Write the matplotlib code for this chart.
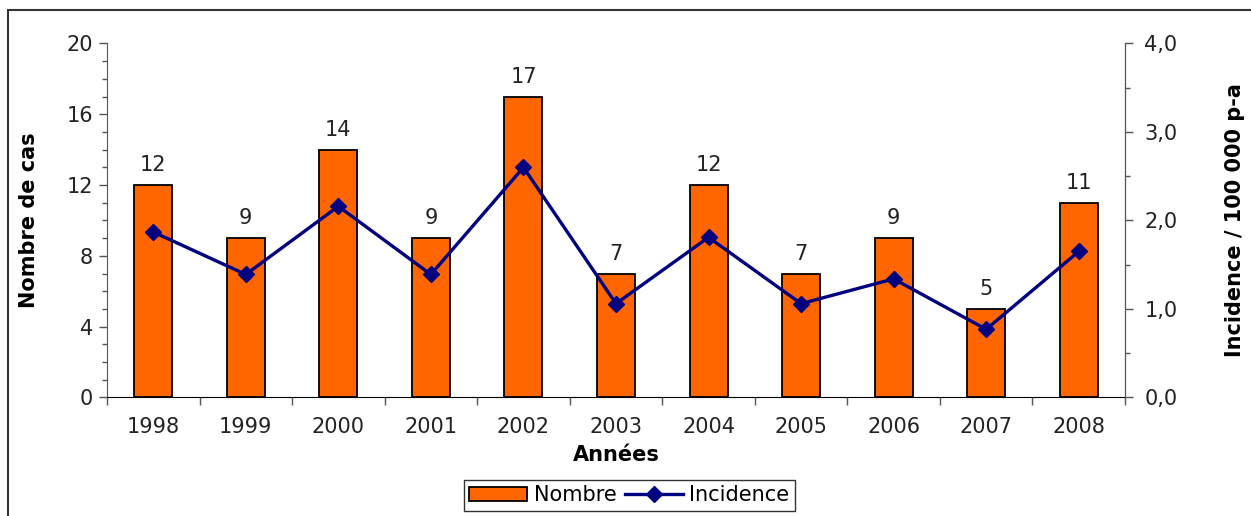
import numpy as np
import matplotlib.pyplot as plt
from matplotlib.patches import Rectangle
from matplotlib.ticker import MultipleLocator, FixedLocator, FuncFormatter

# Nombre de cas et incidence annuelle
annees = ["1998", "1999", "2000", "2001", "2002", "2003", "2004", "2005", "2006", "2007", "2008"]
nombre = [12, 9, 14, 9, 17, 7, 12, 7, 9, 5, 11]
incidence = [1.87, 1.39, 2.16, 1.39, 2.60, 1.06, 1.81, 1.06, 1.34, 0.77, 1.65]

ORANGE = "#FF6600"
NAVY = "#000080"
FS = 15

plt.rcParams["font.family"] = "DejaVu Sans"

fig = plt.figure(figsize=(12.51, 5.16), dpi=100)
ax = fig.add_axes([0.0855, 0.2297, 0.8138, 0.686])
ax2 = ax.twinx()

x = np.arange(len(annees))
bars = ax.bar(x, nombre, width=0.41, color=ORANGE, edgecolor="black", linewidth=1.3,
              label="Nombre", zorder=2)
for xi, v in zip(x, nombre):
    ax.annotate(str(v), (xi, v), xytext=(0, 7), textcoords="offset points",
                ha="center", va="bottom", fontsize=FS, color="#222222")

ax2.plot(x, incidence, color=NAVY, lw=2.4, marker="D", markersize=8.5,
         label="Incidence", zorder=3)

ax.set_xlim(-0.5, len(annees) - 0.5)
ax.set_ylim(0, 20)
ax2.set_ylim(0, 4)

# axe gauche
ax.yaxis.set_major_locator(MultipleLocator(4))
ax.yaxis.set_minor_locator(MultipleLocator(1))
ax.tick_params(axis="y", which="major", length=6, width=1, colors="#555555",
               labelcolor="#222222", labelsize=FS, pad=4)
ax.tick_params(axis="y", which="minor", length=3.5, width=1, colors="#555555")

# axe des années: repères entre les catégories
ax.set_xticks(x)
ax.set_xticklabels(annees)
ax.xaxis.set_minor_locator(FixedLocator(np.arange(-0.5, len(annees), 1.0)))
ax.tick_params(axis="x", which="major", length=0, labelsize=FS, labelcolor="#222222", pad=14)
ax.tick_params(axis="x", which="minor", length=6, width=1, colors="#555555")

# axe droit
ax2.yaxis.set_major_locator(MultipleLocator(1))
ax2.yaxis.set_minor_locator(MultipleLocator(0.5))
ax2.yaxis.set_major_formatter(FuncFormatter(lambda v, p: f"{v:.1f}".replace(".", ",")))
ax2.tick_params(axis="y", which="major", length=6, width=1, colors="#555555",
                labelcolor="#222222", labelsize=FS, pad=8)
ax2.tick_params(axis="y", which="minor", length=3.5, width=1, colors="#555555")

for a in (ax, ax2):
    a.spines["top"].set_visible(False)
ax.spines["left"].set_color("#555555")
ax.spines["bottom"].set_color("black")
ax2.spines["right"].set_color("#555555")
ax2.spines["left"].set_visible(False)
ax2.spines["bottom"].set_visible(False)

ax.set_xlabel("Années", fontsize=FS, fontweight="bold", labelpad=6)
ax.set_ylabel("Nombre de cas", fontsize=FS, fontweight="bold", labelpad=20)
ax2.set_ylabel("Incidence / 100 000 p-a", fontsize=FS, fontweight="bold", labelpad=34)

handles = [bars, ax2.get_lines()[0]]
fig.legend(handles, ["Nombre", "Incidence"], loc="center", bbox_to_anchor=(0.503, 0.04),
           ncol=2, fontsize=FS, frameon=True, fancybox=False, edgecolor="black",
           handlelength=2.8, handletextpad=0.3, columnspacing=0.4, borderpad=0.25,
           borderaxespad=0)

# cadre du graphique
fig.patches.append(Rectangle((8 / 1251, -0.5), 1.5, 0.5 + 1 - 10 / 516,
                             transform=fig.transFigure, fill=False,
                             edgecolor="#333333", linewidth=1.5))

fig.savefig("out.png", dpi=100)
